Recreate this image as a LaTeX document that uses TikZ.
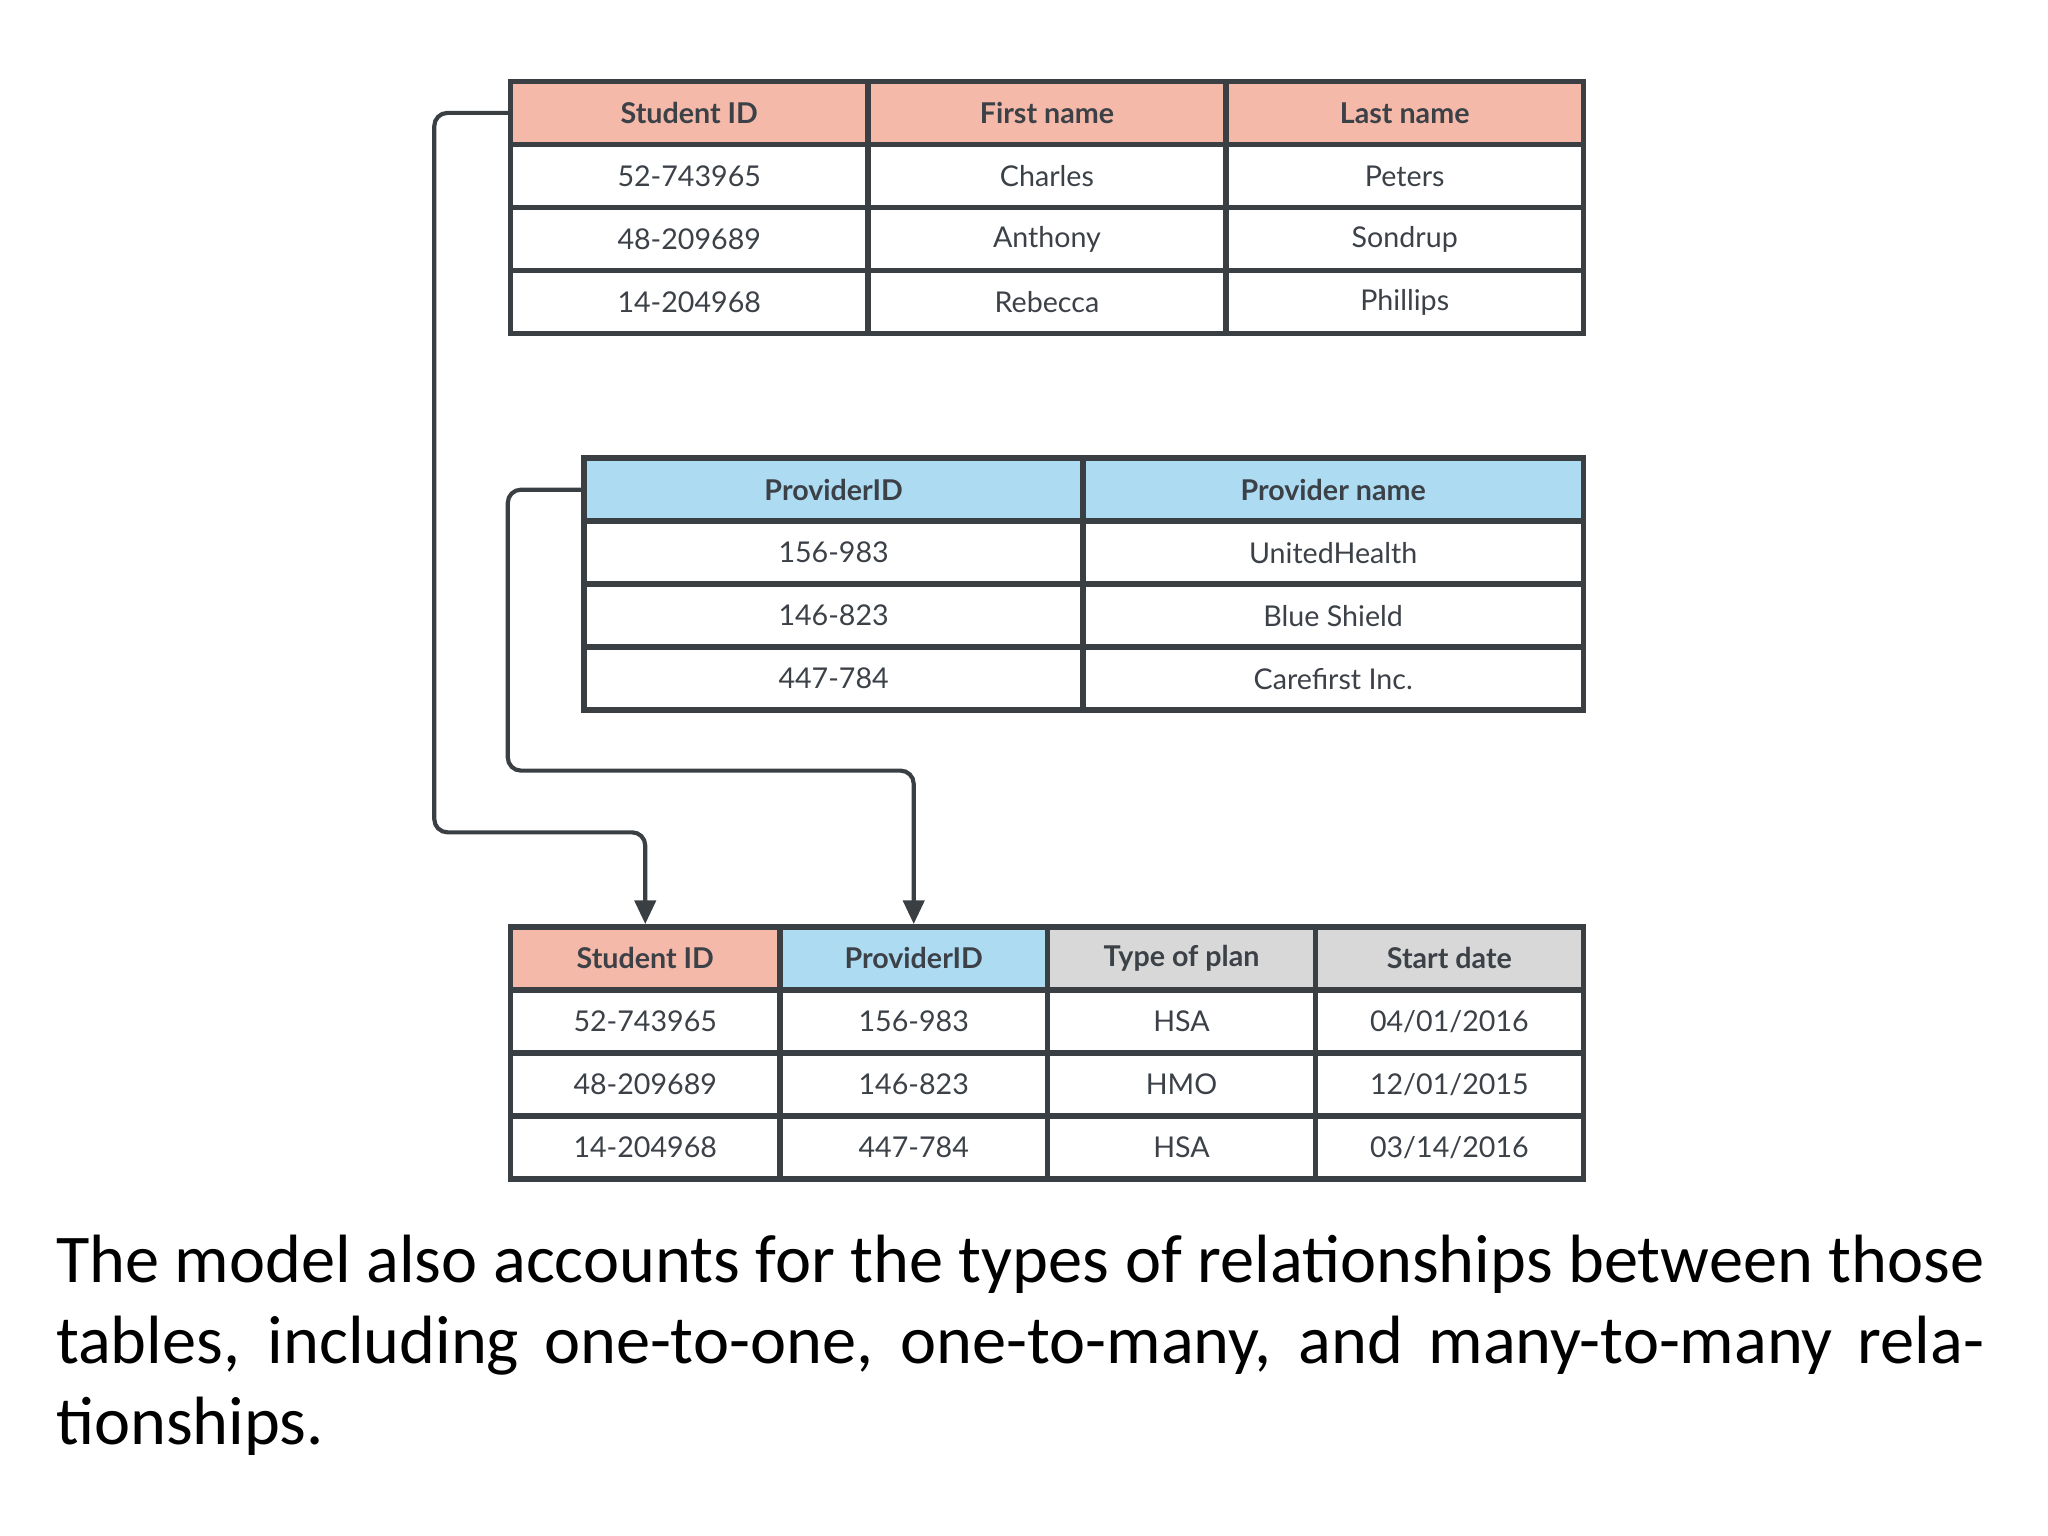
\documentclass[tikz,border=0pt]{standalone}
\usepackage{fontspec}
\setmainfont{Carlito}
\newfontfamily\tabfont{Lato}
\usetikzlibrary{positioning, arrows.meta}
\definecolor{HeadRed}{HTML}{F4B9A8}
\definecolor{HeadBlue}{HTML}{ADDCF2}
\definecolor{HeadGray}{HTML}{D8D8D8}
\definecolor{LineGray}{HTML}{3A3F44}
\definecolor{TextGray}{HTML}{3C4148}
\tikzset{
  cell/.style={draw=LineGray, line width=1.2pt, minimum height=0.48cm, inner sep=0pt,
    font=\tabfont\fontsize{6.2}{8}\selectfont, text=TextGray},
  head/.style={cell, font=\tabfont\bfseries\fontsize{6.2}{8}\selectfont},
  link/.style={LineGray, line width=0.9pt, rounded corners=0.1cm}
}
\begin{document}
\begin{tikzpicture}[x=0.01cm, y=-0.01cm]
  \useasboundingbox (0,0) rectangle (1560,1170);
  % Students table
  \foreach \n/\x/\t in {a/525/Student ID, b/797.5/First name, c/1070/Last name}
    \node[head, fill=HeadRed, minimum width=2.72cm] (s0\n) at (\x,86) {\t};
  \foreach \r/\y/\a/\b/\c in {1/134/52-743965/Charles/Peters, 2/182/48-209689/Anthony/Sondrup, 3/230/14-204968/Rebecca/Phillips} {
    \node[cell, minimum width=2.72cm] (s\r a) at (525,\y) {\a};
    \node[cell, minimum width=2.72cm] (s\r b) at (797.5,\y) {\b};
    \node[cell, minimum width=2.72cm] (s\r c) at (1070,\y) {\c};
  }
  % Providers table
  \node[head, fill=HeadBlue, minimum width=3.8cm] (p0a) at (635,373) {ProviderID};
  \node[head, fill=HeadBlue, minimum width=3.81cm] (p0b) at (1015.5,373) {Provider name};
  \foreach \r/\y/\a/\b in {1/421/156-983/UnitedHealth, 2/469/146-823/Blue Shield, 3/517/447-784/Carefirst Inc.} {
    \node[cell, minimum width=3.8cm] (p\r a) at (635,\y) {\a};
    \node[cell, minimum width=3.81cm] (p\r b) at (1015.5,\y) {\b};
  }
  % Plans table
  \node[head, fill=HeadRed, minimum width=2.05cm] (e0a) at (491.5,730) {Student ID};
  \node[head, fill=HeadBlue, minimum width=2.04cm] (e0b) at (696,730) {ProviderID};
  \node[head, fill=HeadGray, minimum width=2.04cm] (e0c) at (900,730) {Type of plan};
  \node[head, fill=HeadGray, minimum width=2.04cm] (e0d) at (1104,730) {Start date};
  \foreach \r/\y/\a/\b/\c/\d in {1/778/52-743965/156-983/HSA/04\slash 01\slash 2016, 2/826/48-209689/146-823/HMO/12\slash 01\slash 2015, 3/874/14-204968/447-784/HSA/03\slash 14\slash 2016} {
    \node[cell, minimum width=2.05cm] (e\r a) at (491.5,\y) {\a};
    \node[cell, minimum width=2.04cm] (e\r b) at (696,\y) {\b};
    \node[cell, minimum width=2.04cm] (e\r c) at (900,\y) {\c};
    \node[cell, minimum width=2.04cm] (e\r d) at (1104,\y) {\d};
  }
  % Relations
  \draw[link, -{Triangle[length=0.18cm, width=0.16cm]}] (s0a.west) -- ++(-56,0) |- (491.5,634) -- (e0a.north);
  \draw[link, -{Triangle[length=0.18cm, width=0.16cm]}] (p0a.west) -- ++(-56,0) |- (696,587) -- (e0b.north);
  % Caption
  \node[anchor=north west, inner sep=0pt, text width=14.68cm, align=justify,
    font=\fontsize{14.8}{17.6}\selectfont] (caption) at (42,940)
    {\hyphenpenalty=10000\relax The model also accounts for the types of relationships between those tables, including one-to-one, one-to-many, and many-to-many relationships.};
\end{tikzpicture}
\end{document}
